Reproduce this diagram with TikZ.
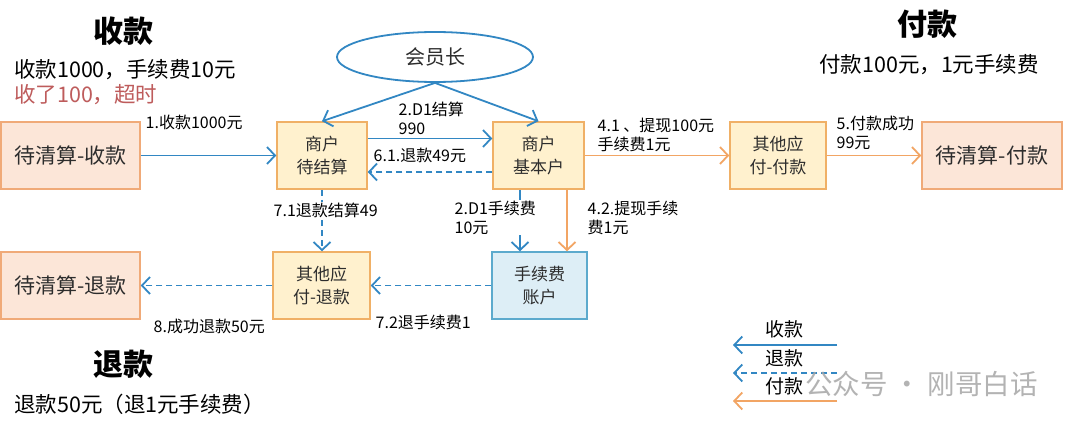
\documentclass[tikz,border=0pt]{standalone}
\usepackage{fontspec}
\setmainfont{Noto Sans CJK SC}
\usetikzlibrary{arrows.meta,shapes.geometric,calc}
\definecolor{lblue}{RGB}{50,135,195}
\definecolor{lorange}{RGB}{242,165,100}
\definecolor{yfill}{RGB}{255,241,206}
\definecolor{yborder}{RGB}{240,176,102}
\definecolor{pfill}{RGB}{252,230,216}
\definecolor{pborder}{RGB}{240,170,120}
\definecolor{bfill}{RGB}{221,238,246}
\definecolor{bborder}{RGB}{92,170,205}
\definecolor{txt}{RGB}{45,45,45}
\definecolor{redtxt}{RGB}{190,92,92}
\newcommand\fsz[2]{\fontsize{#1}{#2}\selectfont}
\begin{document}
\begin{tikzpicture}[x=1pt,y=-1pt,
  box/.style={draw, line width=1.5pt, inner sep=0pt, align=center, text=txt, minimum height=67pt},
  ybox/.style={box, fill=yfill, draw=yborder, font=\fsz{17}{22.5}},
  pbox/.style={box, fill=pfill, draw=pborder, font=\fsz{21}{26}},
  bbox/.style={box, fill=bfill, draw=bborder, font=\fsz{17}{22.5}},
  bl/.style={draw=lblue, line width=1.8pt, -{Straight Barb[length=8pt,width=17pt]}},
  dsh/.style={bl, dash pattern=on 6pt off 4pt},
  orarr/.style={draw=lorange, line width=1.8pt, -{Straight Barb[length=8pt,width=17pt]}},
  lab/.style={font=\fsz{16}{19}, text=black, align=left, inner sep=0.5pt},
  ttl/.style={font=\fsz{30}{34}\bfseries, text=black, inner sep=0pt},
  sub/.style={font=\fsz{21.5}{25}, text=black, inner sep=0pt, anchor=west},
  leg/.style={font=\fsz{19}{22}, text=black, inner sep=0pt}
]
\useasboundingbox (0,0) rectangle (1080,428);
\fill[white] (0,0) rectangle (1080,428);

% titles
\node[ttl] (t1) at (123,31) {收款};
\node[sub] (s1) at (14,70) {收款1000，手续费10元};
\node[sub, text=redtxt] (s2) at (14,95) {收了100，超时};
\node[ttl] (t2) at (927,24) {付款};
\node[sub] (s3) at (819,65) {付款100元，1元手续费};
\node[ttl] (t3) at (123,364) {退款};
\node[sub] (s4) at (14,404) {退款50元（退1元手续费）};

% boxes
\node[pbox, minimum width=139pt] (qs) at (70.5,155.5) {待清算-收款};
\node[ybox, minimum width=90pt] (sd) at (322,155.5) {商户\\待结算};
\node[ybox, minimum width=91pt] (jb) at (538.5,155.5) {商户\\基本户};
\node[ybox, minimum width=96pt] (fk) at (778,155.5) {其他应\\付-付款};
\node[pbox, minimum width=140pt] (qf) at (992,155.5) {待清算-付款};
\node[pbox, minimum width=139pt] (qt) at (70.5,285.5) {待清算-退款};
\node[ybox, minimum width=97pt] (tk) at (321.5,285.5) {其他应\\付-退款};
\node[bbox, minimum width=95pt] (sx) at (539.5,285.5) {手续费\\账户};
\node[ellipse, draw=lblue, line width=1.8pt, minimum width=196pt, minimum height=50pt, inner sep=0pt, font=\fsz{20}{24}, text=txt] (hy) at (435,57) {会员长};

% connectors
\draw[bl] (hy.south) -- (sd.north);
\draw[bl] (hy.south) -- (jb.north);
\draw[bl] (qs.east) -- (sd.west);
\draw[bl] ($(sd.east)+(0,-17)$) -- ($(jb.west)+(0,-17)$);
\draw[dsh] ($(jb.west)+(0,16.5)$) -- ($(sd.east)+(0,16.5)$);
\draw[orarr] (jb.east) -- (fk.west);
\draw[orarr] (fk.east) -- (qf.west);
\draw[dsh] (sd.south) -- (sd.south |- tk.north);
\coordinate (fa) at ($(jb.south)+(-18.5,0)$);
\coordinate (fb) at ($(jb.south)+(28.5,0)$);
\draw[bl] (fa) -- (fa |- sx.north);
\draw[orarr] (fb) -- (fb |- sx.north);
\draw[dsh] (sx.west) -- (tk.east);
\draw[dsh] (tk.west) -- (qt.east);

% labels
\node[lab, anchor=west] (l1) at (145,122) {1.收款1000元};
\node[lab, anchor=north west] (l2) at (398,101) {2.D1结算\\990};
\node[lab, anchor=west] (l3) at (373,155) {6.1.退款49元};
\node[lab, anchor=north west] (l4) at (597,117) {4.1 、提现100元\\手续费1元};
\node[lab, anchor=north west] (l5) at (836,115) {5.付款成功\\99元};
\node[lab, anchor=west, fill=white] (l6) at (273,210) {7.1退款结算49};
\node[lab, anchor=north west, fill=white] (l7) at (454,200) {2.D1手续费\\10元};
\node[lab, anchor=north west] (l8) at (587,200) {4.2.提现手续\\费1元};
\node[lab, anchor=west] (l9) at (375,322) {7.2退手续费1};
\node[lab, anchor=west] (l10) at (153,326) {8.成功退款50元};

% legend
\coordinate (ga1) at (837,345); \coordinate (gb1) at (733,345);
\coordinate (ga2) at (837,373); \coordinate (gb2) at (733,373);
\coordinate (ga3) at (837,401); \coordinate (gb3) at (733,401);
\draw[bl] (ga1) -- (gb1);
\draw[dsh] (ga2) -- (gb2);
\draw[orarr] (ga3) -- (gb3);
\node[leg] (g1) at (784,329) {收款};
\node[leg] (g2) at (784,358) {退款};
\node[leg] (g3) at (784,386) {付款};

% watermark
\node[font=\fsz{27.5}{30}, text=black!35, opacity=0.85, inner sep=0pt, anchor=west] (wm) at (805,384) {公众号 · 刚哥白话};
\end{tikzpicture}
\end{document}
